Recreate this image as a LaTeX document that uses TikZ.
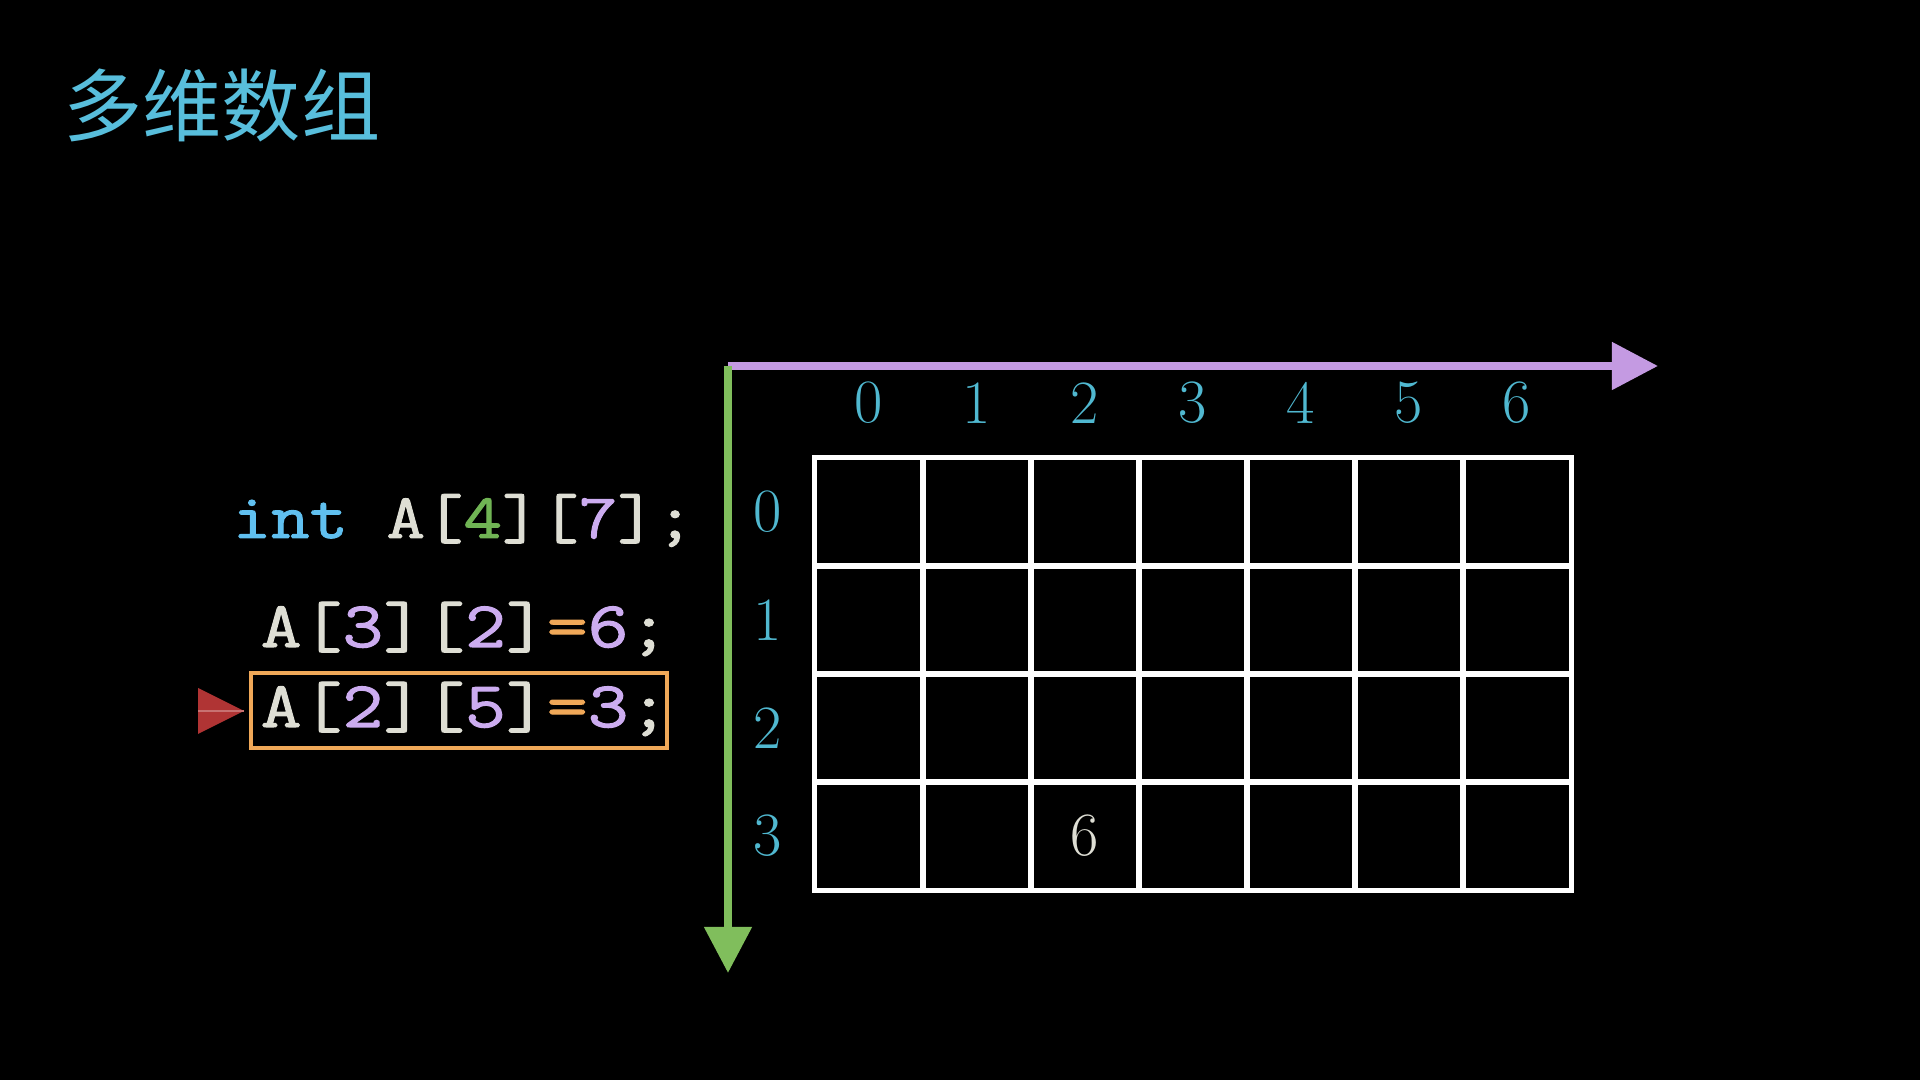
\documentclass[tikz,border=0pt]{standalone}
\usepackage{fontspec}
\newfontfamily\cjk{Noto Sans CJK SC}
\newfontfamily\codefont{Latin Modern Mono}[FakeBold=1.6,FakeStretch=1.22]
\newfontfamily\declfont{Latin Modern Mono}[FakeBold=1.6,FakeStretch=1.18]
\usetikzlibrary{arrows.meta}
\definecolor{titleblue}{RGB}{88,190,220}
\definecolor{idxblue}{RGB}{80,184,208}
\definecolor{kwblue}{RGB}{96,192,240}
\definecolor{codegray}{RGB}{222,222,212}
\definecolor{dimgreen}{RGB}{112,180,84}
\definecolor{numpurple}{RGB}{204,172,240}
\definecolor{hlorange}{RGB}{240,168,88}
\definecolor{ptred}{RGB}{176,52,52}
\definecolor{colpurple}{RGB}{196,154,226}
\definecolor{rowgreen}{RGB}{128,190,92}
\begin{document}
\begin{tikzpicture}[x=0.01cm,y=-0.01cm,
  cell/.style={draw=white,line width=0.05cm,minimum size=1.08cm,inner sep=0},
  idx/.style={text=idxblue,font=\fontsize{17.5}{20}\selectfont,inner sep=0},
  code/.style={font=\codefont\fontsize{18.5}{22}\selectfont,inner sep=0,anchor=base west,text=codegray},
  axis/.style={line width=0.08cm,-{Triangle[length=0.46cm,width=0.46cm]}}]
\fill[black] (0,0) rectangle (1920,1080);
\node[text=titleblue,font=\cjk\fontsize{22.5}{26}\selectfont,inner sep=0] (title) at (222,105) {多维数组};

% axes
\coordinate (origin) at (728,366);
\coordinate (colend) at (1658,366);
\coordinate (rowend) at (728,973);
\draw[axis,colpurple] (origin) -- (colend);
\draw[axis,rowgreen] (origin) -- (rowend);

% cells
\foreach \r in {0,...,3}
\foreach \c in {0,...,6}
{
    \node[cell] (c\r\c) at (869+108*\c,512+108*\r) {};
}
\node[text=codegray,font=\fontsize{17.5}{20}\selectfont,inner sep=0] (val) at (c32) {6};

\foreach \c in {0,...,6}
    \node[idx] (col\c) at (869+108*\c,403) {\c};
\foreach \r in {0,...,3}
    \node[idx] (row\r) at (768,512+108*\r) {\r};

% code
\node[code,font=\declfont\fontsize{18}{22}\selectfont] (decl) at (232,538) {\textcolor{kwblue}{int} A[\textcolor{dimgreen}{4}][\textcolor{numpurple}{7}];};
\node[code] (set1) at (260,647) {A[\textcolor{numpurple}{3}][\textcolor{numpurple}{2}]\textcolor{hlorange}{=}\textcolor{numpurple}{6};};
\node[code] (set2) at (260,727) {A[\textcolor{numpurple}{2}][\textcolor{numpurple}{5}]\textcolor{hlorange}{=}\textcolor{numpurple}{3};};
\node[draw=hlorange,line width=0.04cm,minimum width=4.16cm,minimum height=0.75cm,inner sep=0] (hl) at (459,710.5) {};

\fill[ptred] (198,688) -- (244,711) -- (198,734) -- cycle;
\draw[ptred!70!white,line width=0.015cm] (198,711) -- (244,711);

\end{tikzpicture}
\end{document}
